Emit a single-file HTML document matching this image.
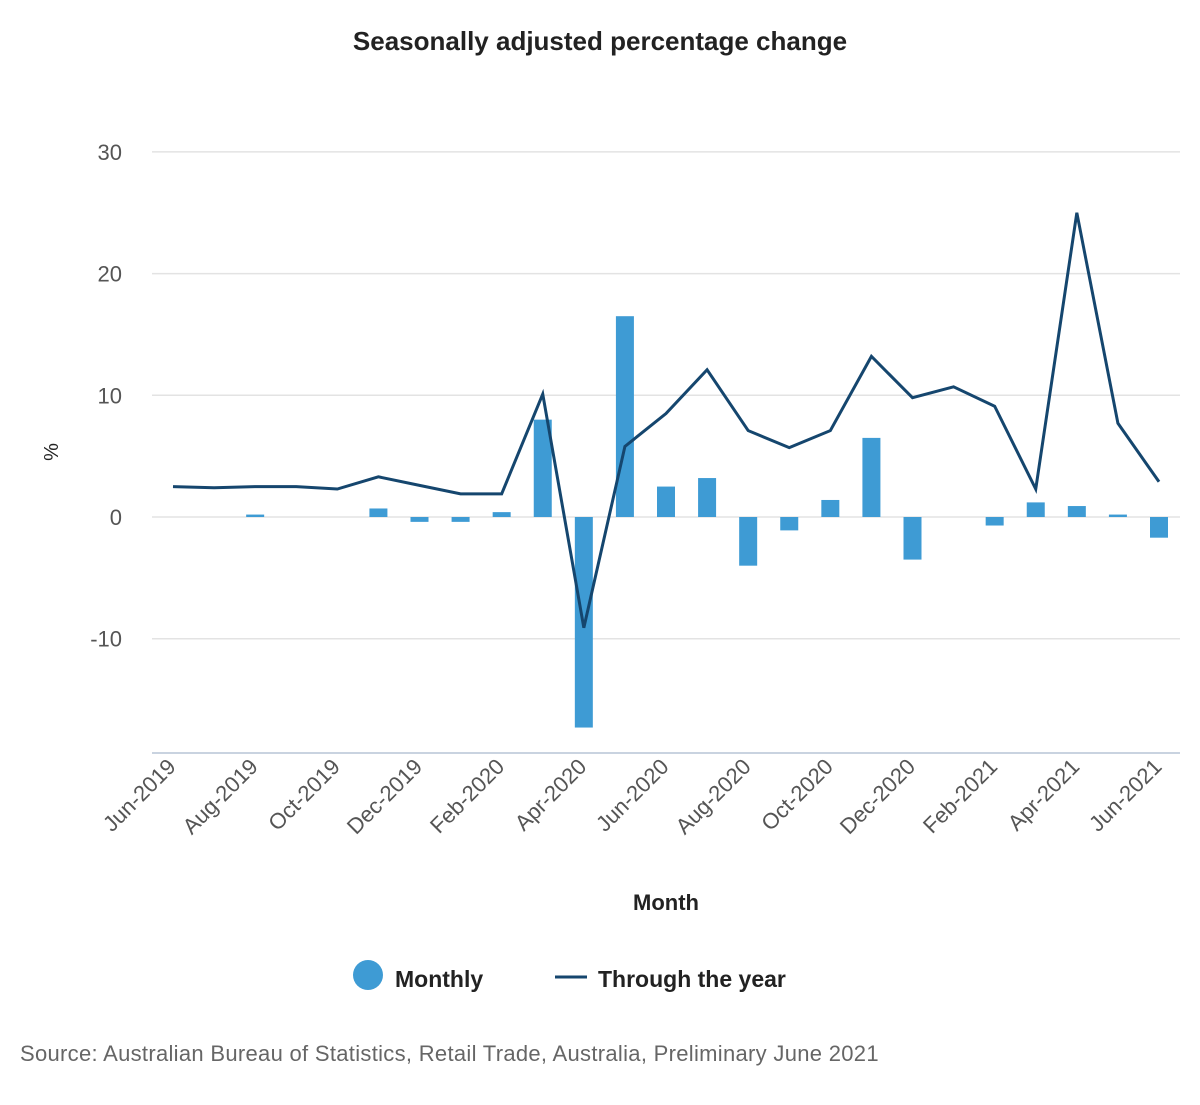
<!DOCTYPE html>
<html><head><meta charset="utf-8">
<style>
body{margin:0;background:#fff;font-family:"Liberation Sans",sans-serif;}
svg text{font-family:"Liberation Sans",sans-serif;}
</style></head>
<body>
<svg id="chart" width="1200" height="1100">
<text x="600" y="50" text-anchor="middle" font-size="26" font-weight="bold" fill="#222">Seasonally adjusted percentage change</text>
<g id="grid"></g>
<g id="bars"></g>
<g id="line"></g>
<g id="xlabels"></g>
<text transform="translate(58,452) rotate(-90)" text-anchor="middle" font-size="20" fill="#222">%</text>
<text x="666" y="910" text-anchor="middle" font-size="22" font-weight="bold" fill="#222">Month</text>
<g>
<circle cx="368" cy="975" r="15" fill="#3e9bd4"></circle>
<text x="395" y="987" font-size="23" font-weight="bold" fill="#222">Monthly</text>
<line x1="555" y1="977" x2="587" y2="977" stroke="#15466e" stroke-width="3"></line>
<text x="598" y="987" font-size="23" font-weight="bold" fill="#222">Through the year</text>
</g>
<text x="20" y="1061" font-size="22" letter-spacing="0.3" fill="#666">Source: Australian Bureau of Statistics, Retail Trade, Australia, Preliminary June 2021</text>
</svg>
<script>
const months=["Jun-2019","Jul-2019","Aug-2019","Sep-2019","Oct-2019","Nov-2019","Dec-2019","Jan-2020","Feb-2020","Mar-2020","Apr-2020","May-2020","Jun-2020","Jul-2020","Aug-2020","Sep-2020","Oct-2020","Nov-2020","Dec-2020","Jan-2021","Feb-2021","Mar-2021","Apr-2021","May-2021","Jun-2021"];
const monthly=[0,0,0.2,0,0,0.7,-0.4,-0.4,0.4,8.0,-17.3,16.5,2.5,3.2,-4.0,-1.1,1.4,6.5,-3.5,0,-0.7,1.2,0.9,0.2,-1.7];
const throughYear=[2.5,2.4,2.5,2.5,2.3,3.3,2.6,1.9,1.9,10.1,-9.1,5.8,8.5,12.1,7.1,5.7,7.1,13.2,9.8,10.7,9.1,2.3,25.0,7.7,2.9];
const yTicks=[30,20,10,0,-10];
const ns="http://www.w3.org/2000/svg";
const y=v=>517-v*12.17;
const x=i=>173+i*(986/(months.length-1));
function mk(t,a,p){const e=document.createElementNS(ns,t);for(const k in a)e.setAttribute(k,a[k]);p.appendChild(e);return e;}
const grid=document.getElementById('grid');
yTicks.forEach(v=>{
 const l=mk('line',{x1:152,x2:1180,y1:y(v),y2:y(v),stroke:'#e3e3e3','stroke-width':1.5},grid);
 
 
 const t=mk('text',{x:122,y:y(v)+8,'text-anchor':'end','font-size':22,fill:'#555'},grid);
 t.textContent=v;
 
 
});
const ax=mk('line',{x1:152,x2:1180,y1:753,y2:753,stroke:'#c9d3e0','stroke-width':2},grid);


const bars=document.getElementById('bars');
monthly.forEach((v,i)=>{
 const r=mk('rect',{x:x(i)-9,y:Math.min(y(v),y(0)),width:18,height:Math.abs(y(v)-y(0)),fill:'#3e9bd4'},bars);
 
 
});
const pl=mk('polyline',{points:throughYear.map((v,i)=>x(i)+','+y(v)).join(' '),fill:'none',stroke:'#15466e','stroke-width':3,'stroke-linejoin':'miter'},document.getElementById('line'));


const xl=document.getElementById('xlabels');
months.forEach((m,i)=>{
 if(i%2) return;
 const t=mk('text',{transform:`translate(${x(i)+4},${768}) rotate(-45)`,'text-anchor':'end','font-size':22,fill:'#555'},xl);
 t.textContent=m;
 
 
});
</script>
</body></html>
